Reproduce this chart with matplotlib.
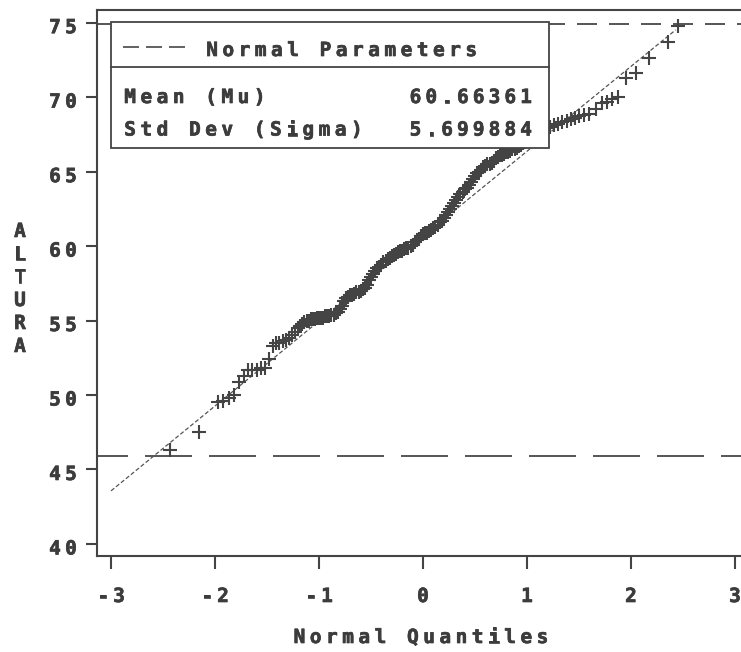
import numpy as np
import matplotlib.pyplot as plt
import matplotlib.patheffects as pe
from matplotlib.transforms import Affine2D, offset_copy
from matplotlib.patches import Rectangle
from matplotlib.lines import Line2D

plt.rcParams['lines.scale_dashes'] = False

# cuantiles normales y alturas ordenadas
quantiles = [-2.43, -2.15, -1.97, -1.92, -1.87, -1.82, -1.77, -1.72, -1.68, -1.64,
             -1.60, -1.56, -1.52, -1.48, -1.44, -1.41, -1.38, -1.35, -1.32, -1.29,
             -1.26, -1.23,
             -1.20, -1.18, -1.16, -1.14, -1.12, -1.10, -1.08, -1.06, -1.04, -1.02,
             -1.00, -0.98, -0.96, -0.94, -0.92, -0.90, -0.88, -0.86, -0.84, -0.82,
             -0.80, -0.78, -0.76, -0.74, -0.72, -0.70, -0.68, -0.66, -0.64, -0.62,
             -0.60, -0.58, -0.56, -0.54, -0.52, -0.50, -0.48, -0.46, -0.44, -0.42,
             -0.40, -0.38, -0.36, -0.34, -0.32, -0.30, -0.28, -0.26, -0.24, -0.22,
             -0.20, -0.18, -0.16, -0.14, -0.12, -0.10, -0.08, -0.06, -0.04, -0.02,
             0.00, 0.02, 0.04, 0.06, 0.08, 0.10, 0.12, 0.14, 0.16, 0.18,
             0.20, 0.22, 0.24, 0.26, 0.28, 0.30, 0.32, 0.34, 0.36, 0.38,
             0.40, 0.42, 0.44, 0.46, 0.48, 0.50, 0.52, 0.54, 0.56, 0.58,
             0.60, 0.62, 0.64, 0.66, 0.68, 0.70, 0.72, 0.74, 0.76, 0.78,
             0.80, 0.82, 0.84, 0.86, 0.88, 0.90, 0.92, 0.94, 0.96, 0.98,
             1.00, 1.02, 1.04, 1.06, 1.08, 1.10, 1.12, 1.14, 1.16, 1.18,
             1.22, 1.26, 1.30, 1.34, 1.38, 1.42, 1.46, 1.50, 1.55, 1.60,
             1.66, 1.72, 1.77, 1.82, 1.88, 1.95, 2.05, 2.17, 2.36, 2.45]
altura = [46.3, 47.5, 49.5, 49.6, 49.8, 50.0, 50.9, 51.3, 51.7, 51.7,
          51.7, 51.8, 51.8, 52.4, 53.3, 53.5, 53.5, 53.6, 53.7, 53.8,
          54.0, 54.2,
          54.5, 54.6, 54.8, 54.9, 55.0, 55.0, 55.1, 55.1, 55.1, 55.2,
          55.2, 55.2, 55.2, 55.3, 55.3, 55.3, 55.4, 55.4, 55.5, 55.6,
          55.8, 56.0, 56.3, 56.5, 56.6, 56.7, 56.7, 56.8, 56.9, 56.9,
          57.0, 57.1, 57.2, 57.4, 57.7, 57.9, 58.1, 58.3, 58.5, 58.6,
          58.7, 58.9, 59.0, 59.1, 59.2, 59.3, 59.4, 59.5, 59.6, 59.7,
          59.7, 59.8, 59.9, 59.9, 60.0, 60.1, 60.3, 60.4, 60.5, 60.7,
          60.8, 60.9, 60.9, 61.0, 61.1, 61.2, 61.3, 61.4, 61.6, 61.7,
          61.9, 62.1, 62.3, 62.5, 62.7, 62.9, 63.1, 63.3, 63.5, 63.6,
          63.8, 63.9, 64.1, 64.3, 64.5, 64.7, 64.9, 65.0, 65.1, 65.3,
          65.4, 65.5, 65.5, 65.6, 65.7, 65.9, 66.0, 66.1, 66.1, 66.2,
          66.3, 66.3, 66.4, 66.5, 66.5, 66.6, 66.7, 66.8, 66.9, 67.0,
          67.1, 67.2, 67.3, 67.4, 67.5, 67.6, 67.7, 67.8, 67.8, 67.9,
          68.0, 68.1, 68.2, 68.3, 68.4, 68.5, 68.6, 68.7, 68.8, 68.9,
          69.2, 69.6, 69.7, 69.9, 70.0, 71.3, 71.6, 72.6, 73.7, 74.8]

mu = 60.66361
sigma = 5.699884
ref_lo = 45.9
ref_hi = 74.9

xticks = [-3, -2, -1, 0, 1, 2, 3]
yticks = [40, 45, 50, 55, 60, 65, 70, 75]

W, H = 741, 652
GRIS = '#444444'
TXT = '#3c3c3c'
FONT = 'DejaVu Sans Mono'

fig = plt.figure(figsize=(W / 100, H / 100), dpi=100)
# coordenadas en pixeles, origen arriba a la izquierda
px = Affine2D().scale(1 / W, -1 / H).translate(0, 1) + fig.transFigure
grueso = [pe.withStroke(linewidth=0.5, foreground=TXT)]


def mono(x, y, s, trans, pitch=16, align='left', size=14, dx=0, dy=0):
    """Texto de paso fijo, un caracter por celda (dx, dy en pixeles)."""
    n = len(s)
    if align == 'left':
        first = pitch / 2
    elif align == 'center':
        first = -(n - 1) * pitch / 2
    else:
        first = -(n - 0.5) * pitch
    for i, ch in enumerate(s):
        if ch == ' ':
            continue
        t = offset_copy(trans, fig=fig, x=(dx + first + i * pitch) * 0.72,
                        y=-dy * 0.72, units='points')
        fig.text(x, y, ch, transform=t, ha='center', va='baseline',
                 fontsize=size, family=FONT, weight='bold', color=TXT,
                 path_effects=grueso, zorder=5)


ax = fig.add_axes([97 / W, (H - 556) / H, 652 / W, 546 / H])
ax.set_xlim(-3.135, 3.135)
ax.set_ylim(39.19, 75.85)

ax.plot(quantiles, altura, ls='none', marker='+', ms=9.5, mew=1.5,
        color=GRIS, zorder=3)

# recta normal de referencia
qq = np.array([-3.0, 2.43])
ax.plot(qq, mu + sigma * qq, color='#555555', lw=0.9,
        ls=(0, (3, 1.6)), zorder=2)

ax.axhline(ref_lo, color='#555555', lw=1.4,
           ls=(16 * 0.72, (47 * 0.72, 17 * 0.72)), zorder=2)
ax.axhline(ref_hi, color='#555555', lw=1.4,
           ls=(0, (20 * 0.72, 12 * 0.72)), zorder=2)

for sp in ax.spines.values():
    sp.set_color(GRIS)
    sp.set_linewidth(1.5)

ax.set_xticks(xticks)
ax.set_yticks(yticks)
ax.tick_params(axis='x', direction='out', length=9.4, width=1.5, color=GRIS,
               labelbottom=False)
ax.tick_params(axis='y', direction='out', length=7.9, width=1.5, color=GRIS,
               labelleft=False)

for v in yticks:
    mono(0, v, str(v), ax.get_yaxis_transform(), align='right', dx=-18, dy=10.5)
for v in xticks:
    mono(v, 0, str(v), ax.get_xaxis_transform(), align='center', dy=46)

mono(421, 643, 'Normal Quantiles', px, pitch=16.2, align='center')
for i, ch in enumerate('ALTURA'):
    mono(20, 237 + 23 * i, ch, px, align='center')

# recuadro de parametros
fig.add_artist(Rectangle((111, 22), 438, 126, transform=px, facecolor='white',
                         edgecolor=GRIS, lw=1.3, zorder=4))
fig.add_artist(Line2D([111, 549], [67, 67], transform=px, color=GRIS, lw=1.3,
                      zorder=4))
fig.add_artist(Line2D([123, 187], [47, 47], transform=px, color='#555555',
                      lw=1.3, ls=(0, (16 * 0.72, 7 * 0.72)), zorder=4))

mono(204, 56, 'Normal Parameters', px, pitch=16.2)
mono(122, 103, 'Mean (Mu)', px, pitch=16.2)
mono(122, 135.5, 'Std Dev (Sigma)', px, pitch=16.2)
mono(534, 103, f'{mu:.5f}', px, pitch=15.8, align='right')
mono(534, 135.5, f'{sigma:.6f}', px, pitch=15.8, align='right')

fig.savefig('out.png', dpi=100)
